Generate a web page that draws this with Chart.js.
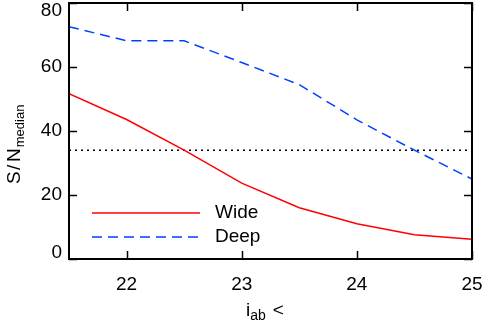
<!DOCTYPE html>
<html>
<head>
<meta charset="utf-8">
<script src="https://cdn.jsdelivr.net/npm/chart.js@4"></script>
<style>
  html, body { margin: 0; padding: 0; background: #fff; }
  #wrap { width: 484px; height: 320px; }
</style>
</head>
<body>
<div id="wrap"><canvas id="chart" width="484" height="320"></canvas></div>
<script>
// magnitude limits and S/N values
const mags = [21.5, 22, 22.5, 23, 23.5, 24, 24.5, 25];
const wide = [51.7, 43.6, 34.0, 23.7, 16.0, 11.0, 7.6, 6.2];
const deep = [72.6, 68.2, 68.2, 61.4, 54.5, 43.5, 34.0, 25.0];
const threshold = 34;
const xTicks = [22, 23, 24, 25];
const yTicks = [0, 20, 40, 60, 80];

const FONT = "Liberation Sans";

const pts = (ys) => mags.map((m, i) => ({ x: m, y: ys[i] }));

// box, inward ticks, tick labels, legend and titles with subscripts
const frame = {
    id: "frame",
    afterDraw(c) {
        const g = c.ctx, a = c.chartArea;
        const xs = c.scales.x, ys = c.scales.y;
        g.save();
        g.strokeStyle = "#000";
        g.lineWidth = 2;
        g.strokeRect(a.left, a.top, a.right - a.left, a.bottom - a.top);
        g.lineWidth = 1.5;
        g.beginPath();
        xTicks.forEach(v => {
            const px = Math.round(xs.getPixelForValue(v)) + 0.5;
            g.moveTo(px, a.bottom); g.lineTo(px, a.bottom - 8);
            g.moveTo(px, a.top); g.lineTo(px, a.top + 8);
        });
        yTicks.forEach(v => {
            const py = Math.round(ys.getPixelForValue(v)) + 0.5;
            g.moveTo(a.left, py); g.lineTo(a.left + 8, py);
            g.moveTo(a.right, py); g.lineTo(a.right - 8, py);
        });
        g.stroke();

        g.fillStyle = "#000";
        g.font = "19px '" + FONT + "'";
        g.textBaseline = "middle";
        g.textAlign = "center";
        xTicks.forEach(v => g.fillText(String(v), xs.getPixelForValue(v), a.bottom + 26));
        g.textAlign = "right";
        // keep the end labels inside the canvas, like the original
        yTicks.forEach(v => {
            const py = Math.min(Math.max(ys.getPixelForValue(v), 11), a.bottom - 6);
            g.fillText(String(v), a.left - 7, py);
        });

        // legend
        g.lineWidth = 1.5;
        g.strokeStyle = "#ff0000";
        g.beginPath(); g.moveTo(92, 213); g.lineTo(200, 213); g.stroke();
        g.strokeStyle = "#0040ff";
        g.setLineDash([10, 6]);
        g.beginPath(); g.moveTo(92, 237); g.lineTo(200, 237); g.stroke();
        g.setLineDash([]);
        g.font = "19px '" + FONT + "'";
        g.textAlign = "left";
        g.fillText("Wide", 215, 213);
        g.fillText("Deep", 215, 237);

        // x title: i_ab <
        g.textBaseline = "alphabetic";
        let x0 = 246, yb = 316;
        g.fillText("i", x0, yb);
        x0 += g.measureText("i").width;
        g.font = "14px '" + FONT + "'";
        g.fillText("ab", x0, yb + 4);
        x0 += g.measureText("ab").width + 7;
        g.font = "19px '" + FONT + "'";
        g.fillText("<", x0, yb);

        // y title: S/N_median
        g.translate(20, 184);
        g.rotate(-Math.PI / 2);
        g.fillText("S", 0, 0);
        g.fillText("/", 14, 0);
        g.fillText("N", 22, 0);
        const w = 22 + g.measureText("N").width;
        g.font = "13px '" + FONT + "'";
        g.fillText("median", w + 1, 4);
        g.restore();
    }
};

new Chart(document.getElementById("chart"), {
    type: "line",
    data: {
        datasets: [
            {
                label: "Wide",
                data: pts(wide),
                borderColor: "#ff0000",
                borderWidth: 1.5,
                pointRadius: 0,
                tension: 0,
            },
            {
                label: "Deep",
                data: pts(deep),
                borderColor: "#0040ff",
                borderWidth: 1.5,
                borderDash: [10, 6],
                pointRadius: 0,
                tension: 0,
            },
            {
                label: "limit",
                data: [{ x: mags[0], y: threshold }, { x: mags[mags.length - 1], y: threshold }],
                borderColor: "#000",
                borderWidth: 1.5,
                borderDash: [2, 4],
                pointRadius: 0,
            },
        ],
    },
    options: {
        responsive: false,
        animation: false,
        layout: { padding: { top: 3, right: 12, left: 0, bottom: 0 } },
        plugins: {
            legend: { display: false },
            tooltip: { enabled: false },
        },
        scales: {
            x: {
                type: "linear",
                min: 21.5,
                max: 25,
                afterBuildTicks: (s) => { s.ticks = xTicks.map(v => ({ value: v })); },
                afterFit: (s) => { s.height = 61; },
                grid: { display: false, drawTicks: false },
                border: { display: false },
                ticks: { display: false },
            },
            y: {
                min: 0,
                max: 80,
                afterBuildTicks: (s) => { s.ticks = yTicks.map(v => ({ value: v })); },
                afterFit: (s) => { s.width = 69; },
                grid: { display: false, drawTicks: false },
                border: { display: false },
                ticks: { display: false },
            },
        },
    },
    plugins: [frame],
});
</script>
</body>
</html>
